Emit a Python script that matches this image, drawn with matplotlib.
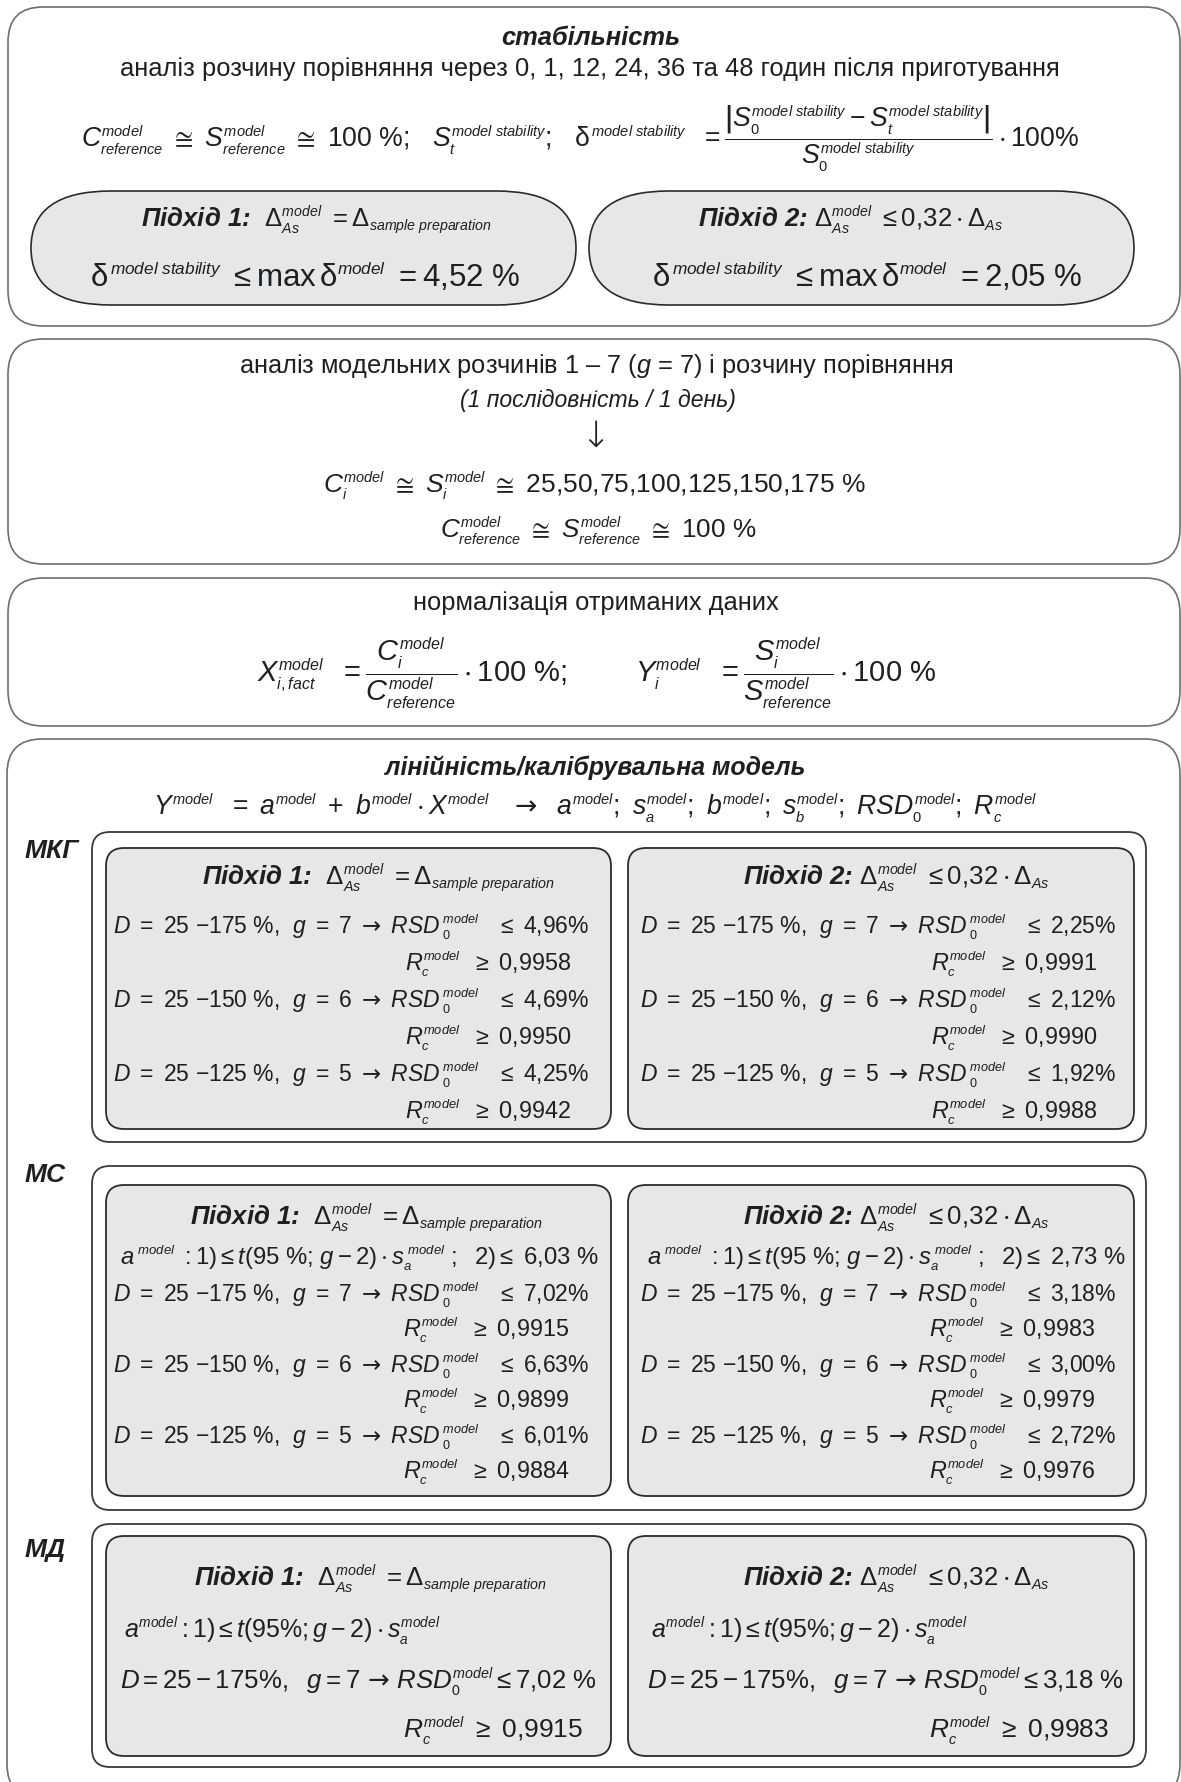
import matplotlib
matplotlib.use("Agg")
import matplotlib.pyplot as plt
import matplotlib._mathtext as _mt
from matplotlib.patches import FancyBboxPatch

W, H = 1181, 1783

# ---- values read from the scheme ----
hours = [0, 1, 12, 24, 36, 48]
levels = [25, 50, 75, 100, 125, 150, 175]
n_sol = 7
stab_max = ["4,52", "2,05"]
k_as = "0,32"
ranges = [(25, 175), (25, 150), (25, 125)]
g_vals = [7, 6, 5]
mkg_rsd = [["4,96", "4,69", "4,25"], ["2,25", "2,12", "1,92"]]
mkg_rc = [["0,9958", "0,9950", "0,9942"], ["0,9991", "0,9990", "0,9988"]]
ms_a = ["6,03", "2,73"]
ms_rsd = [["7,02", "6,63", "6,01"], ["3,18", "3,00", "2,72"]]
ms_rc = [["0,9915", "0,9899", "0,9884"], ["0,9983", "0,9979", "0,9976"]]
md_rsd = ["7,02", "3,18"]
md_rc = ["0,9915", "0,9983"]

FAM = "Liberation Sans"
plt.rcParams.update({
    "font.family": [FAM, "DejaVu Sans"],
    "mathtext.fontset": "custom",
    "mathtext.rm": FAM,
    "mathtext.it": FAM + ":italic",
    "mathtext.bf": FAM + ":bold",
    "mathtext.sf": "DejaVu Sans",   # only used for the full-size arrow
    "mathtext.fallback": "stixsans",
})
_mt.SHRINK_FACTOR = 0.55  # smaller "model" indices, like the original

INK = "#1f1f1f"
GRAY = "#e6e7e8"
ARR = r"\mathsf{\rightarrow}"

fig = plt.figure(figsize=(W / 100, H / 100), dpi=100)
ax = fig.add_axes([0, 0, 1, 1])
ax.set_xlim(0, W)
ax.set_ylim(H, 0)
ax.axis("off")


def rbox(x0, y0, x1, y1, r, fc="white", ec="#6e6e6e", lw=1.2, aspect=1.0):
    ax.add_patch(FancyBboxPatch(
        (x0, y0), x1 - x0, y1 - y0,
        boxstyle=f"round,pad=0,rounding_size={r}",
        mutation_aspect=aspect, fc=fc, ec=ec, lw=lw))


def txt(x, y, s, size=16, ha="left", **kw):
    ax.text(x, y, s, fontsize=size, ha=ha, va="baseline", color=INK, **kw)


def bold(x, y, s, size=17, ha="left"):
    txt(x, y, s, size=size, ha=ha, fontweight="bold", fontstyle="italic")


k_m = k_as.replace(",", r",\!")
HEAD1 = r"Підхід 1:  $\Delta^{model}_{As}\ =\Delta_{sample\ preparation}$"
HEAD2 = r"Підхід 2: $\Delta^{model}_{As}\ \leq " + k_m + r"\cdot\Delta_{As}$"

# ---- box 1: stability ----
rbox(8, 8, 1180, 327, 35)
bold(591, 45, "стабільність", 18.4, "center")
txt(590, 76, "аналіз розчину порівняння через " + ", ".join(str(h) for h in hours[:-1])
    + f" та {hours[-1]} годин після приготування", 18.4, "center")
ms_ = r"model\ stability"
txt(580, 147,
    r"$C^{model}_{reference}\ \cong\ S^{model}_{reference}\ \cong$ 100 %;   "
    r"$S_t^{" + ms_ + r"}$;   "
    r"$\mathrm{\delta}^{\," + ms_ + r"}\ \ =\dfrac{\left|S_0^{" + ms_ + r"}-S_t^{" + ms_
    + r"}\right|}{S_0^{" + ms_ + r"}}\cdot$100%", 19.2, "center")

rbox(31, 192, 576, 306, 80, fc=GRAY, ec="#2b2b2b", lw=1.2, aspect=57 / 80)
rbox(589, 192, 1134, 306, 80, fc=GRAY, ec="#2b2b2b", lw=1.2, aspect=57 / 80)
pill_x = [(316, 305), (851, 867)]
for j in range(2):
    bold(pill_x[j][0], 227, HEAD1 if j == 0 else HEAD2, 18.5, "center")
    txt(pill_x[j][1], 287,
        r"$\mathrm{\delta}^{\," + ms_ + r"}\ \leq\mathrm{max}\,\mathrm{\delta}^{model}\ =$"
        + stab_max[j] + " %", 22.5, "center")

# ---- box 2: model solutions ----
rbox(8, 340, 1180, 565, 35)
txt(596, 373, f"аналіз модельних розчинів 1 – {n_sol} ($g$ = {n_sol}) і розчину порівняння",
    18.3, "center")
txt(598, 407, "(1 послідовність / 1 день)", 16.6, "center", fontstyle="italic")
ax.text(595, 437, "↓", fontsize=26, ha="center", va="center", color=INK,
        family="DejaVu Sans", fontweight="light")
txt(594, 493, r"$C_i^{model}\ \cong\ S_i^{model}\ \cong$ "
    + ",".join(str(v) for v in levels) + " %", 19, "center")
txt(598, 538, r"$C^{model}_{reference}\ \cong\ S^{model}_{reference}\ \cong$ 100 %", 18.8, "center")

# ---- box 3: normalisation ----
rbox(8, 579, 1180, 727, 35)
txt(596, 610, "нормалізація отриманих даних", 18.4, "center")
txt(412, 682, r"$X^{model}_{i,fact}\ \ =\dfrac{C_i^{model}}{C^{model}_{reference}}\cdot$100 %;",
    21, "center")
txt(786, 682, r"$Y_i^{model}\ \ =\dfrac{S_i^{model}}{S^{model}_{reference}}\cdot$100 %", 21, "center")

# ---- box 4: linearity ----
rbox(7, 740, 1180, 1800, 35)
bold(595, 775, "лінійність/калібрувальна модель", 17.9, "center")
txt(595, 815, r"$Y^{model}\ \ =\ a^{model}\ +\ b^{model}\cdot X^{model}\ \ \ " + ARR + r"\ \ "
    r"a^{model};\ s_a^{model};\ b^{model};\ s_b^{model};\ RSD_0^{model};\ R_c^{model}$",
    19.2, "center")

GX = [(106, 611), (628, 1134)]
D_X = [113, 640]
R_X = [405, 931]
HEAD_X = [202, 743]


def section(label, lab_y, wy0, wy1, gy0, gy1):
    bold(25, lab_y, label, 19)
    rbox(92, wy0, 1146, wy1, 18, ec="#3a3a3a", lw=1.3)
    for j in range(2):
        rbox(GX[j][0], gy0, GX[j][1], gy1, 18, fc=GRAY, ec="#2b2b2b", lw=1.3)


def d_row(x, y, k, rsd, size=16.5):
    lo, hi = ranges[k]
    txt(x, y, rf"$D\ =$ {lo} $-${hi} %,  $g\ =$ {g_vals[k]} "
        r"$" + ARR + r"\ RSD\,{}_{0}^{model}\ \ \ \leq$ " + rsd + "%", size)


def r_row(x, y, rc, size=16.8, gap=r"\ \ "):
    txt(x, y, r"$R_c^{model}" + gap + r"\geq$ " + rc, size)


# МКГ
section("МКГ", 858, 833, 1143, 849, 1130)
for j in range(2):
    bold(HEAD_X[j], 885, HEAD1 if j == 0 else HEAD2, 18.6)
    for k in range(3):
        d_row(D_X[j], 934 + 74 * k, k, mkg_rsd[j][k])
        r_row(R_X[j], 971 + 74 * k, mkg_rc[j][k])

# МС
section("МС", 1182, 1167, 1511, 1186, 1497)
for j in range(2):
    bold(HEAD_X[j] - 12 * (j == 0), 1225, HEAD1 if j == 0 else HEAD2, 18.6)
    txt(D_X[j] + 7, 1265, r"$a^{\ model}\ :1)\leq t(95$ %; $g-2)\cdot s_a^{\ model}\ ;\ \ 2)\leq$ "
        + ms_a[j] + " %", 17.2)
    for k in range(3):
        d_row(D_X[j], 1302 + 71 * k, k, ms_rsd[j][k])
        r_row(R_X[j] - 2, 1337 + 71 * k, ms_rc[j][k])

# МД
section("МД", 1557, 1525, 1768, 1537, 1757)
for j in range(2):
    bold(HEAD_X[j] - 8 * (j == 0), 1586, HEAD1 if j == 0 else HEAD2, 18.6)
    txt(D_X[j] + 11, 1638, r"$a^{model}:1)\leq t(95\%;g-2)\cdot s_a^{model}$", 18)
    lo, hi = ranges[0]
    txt(D_X[j] + 7, 1689, rf"$D={lo}-{hi}\%,\ \ g={g_vals[0]}\," + ARR + r"\,RSD_0^{model}\leq$"
        + md_rsd[j] + " %", 18.6)
    r_row(R_X[j] - 2, 1738, md_rc[j], 19, gap=r"\ ")

fig.savefig("out.png", dpi=100)
